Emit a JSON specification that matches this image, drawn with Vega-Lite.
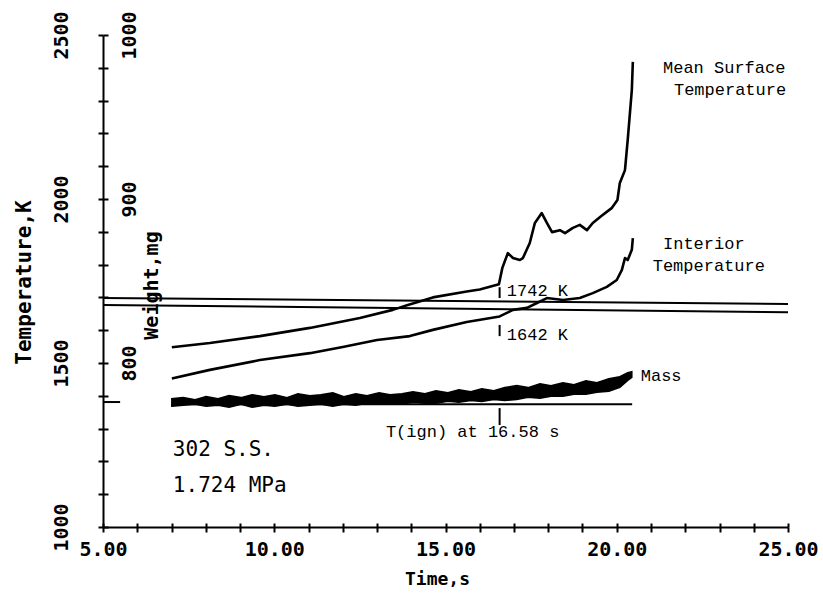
{
  "$schema": "https://vega.github.io/schema/vega-lite/v6.json",
  "width": 685,
  "height": 492,
  "autosize": {"type": "none"},
  "padding": {"left": 103, "top": 35, "right": 35, "bottom": 66},
  "background": "white",
  "config": {"view": {"stroke": null}},
  "datasets": {
    "curves": [
      {"series": "surface", "t": 7.01, "T": 1548},
      {"series": "surface", "t": 8.12, "T": 1561},
      {"series": "surface", "t": 9.58, "T": 1582},
      {"series": "surface", "t": 11.04, "T": 1607},
      {"series": "surface", "t": 12.5, "T": 1637},
      {"series": "surface", "t": 13.46, "T": 1662},
      {"series": "surface", "t": 13.9, "T": 1677},
      {"series": "surface", "t": 14.63, "T": 1700},
      {"series": "surface", "t": 15.62, "T": 1718},
      {"series": "surface", "t": 16.0, "T": 1724},
      {"series": "surface", "t": 16.56, "T": 1740},
      {"series": "surface", "t": 16.66, "T": 1790},
      {"series": "surface", "t": 16.82, "T": 1835},
      {"series": "surface", "t": 16.97, "T": 1820},
      {"series": "surface", "t": 17.17, "T": 1814},
      {"series": "surface", "t": 17.26, "T": 1820},
      {"series": "surface", "t": 17.46, "T": 1866},
      {"series": "surface", "t": 17.61, "T": 1927},
      {"series": "surface", "t": 17.81, "T": 1957},
      {"series": "surface", "t": 17.96, "T": 1927},
      {"series": "surface", "t": 18.11, "T": 1899},
      {"series": "surface", "t": 18.34, "T": 1905},
      {"series": "surface", "t": 18.49, "T": 1896},
      {"series": "surface", "t": 18.72, "T": 1912},
      {"series": "surface", "t": 18.92, "T": 1921},
      {"series": "surface", "t": 19.13, "T": 1905},
      {"series": "surface", "t": 19.3, "T": 1927},
      {"series": "surface", "t": 19.55, "T": 1948},
      {"series": "surface", "t": 19.86, "T": 1973},
      {"series": "surface", "t": 20.02, "T": 1997},
      {"series": "surface", "t": 20.09, "T": 2049},
      {"series": "surface", "t": 20.24, "T": 2088},
      {"series": "surface", "t": 20.32, "T": 2180},
      {"series": "surface", "t": 20.44, "T": 2332},
      {"series": "surface", "t": 20.47, "T": 2418},
      {"series": "interior", "t": 7.01, "T": 1453},
      {"series": "interior", "t": 8.12, "T": 1479},
      {"series": "interior", "t": 9.58, "T": 1509},
      {"series": "interior", "t": 11.04, "T": 1530},
      {"series": "interior", "t": 12.0, "T": 1549},
      {"series": "interior", "t": 13.0, "T": 1570},
      {"series": "interior", "t": 13.96, "T": 1582},
      {"series": "interior", "t": 14.63, "T": 1601},
      {"series": "interior", "t": 15.62, "T": 1625},
      {"series": "interior", "t": 16.58, "T": 1642},
      {"series": "interior", "t": 16.97, "T": 1662},
      {"series": "interior", "t": 17.38, "T": 1668},
      {"series": "interior", "t": 17.67, "T": 1683},
      {"series": "interior", "t": 17.96, "T": 1698},
      {"series": "interior", "t": 18.43, "T": 1692},
      {"series": "interior", "t": 18.92, "T": 1698},
      {"series": "interior", "t": 19.3, "T": 1713},
      {"series": "interior", "t": 19.71, "T": 1732},
      {"series": "interior", "t": 20.0, "T": 1753},
      {"series": "interior", "t": 20.15, "T": 1784},
      {"series": "interior", "t": 20.24, "T": 1820},
      {"series": "interior", "t": 20.32, "T": 1814},
      {"series": "interior", "t": 20.44, "T": 1845},
      {"series": "interior", "t": 20.47, "T": 1881}
    ],
    "refLines": [
      {"t": 5, "T": 1698, "t2": 25, "T2": 1680},
      {"t": 5, "T": 1677, "t2": 25, "T2": 1655}
    ],
    "markersT": [
      {"t": 16.58, "T": 1698, "T2": 1731},
      {"t": 16.58, "T": 1582, "T2": 1616}
    ],
    "labelsT": [
      {"t": 21.35, "T": 2399, "text": "Mean Surface"},
      {"t": 21.67, "T": 2332, "text": "Temperature"},
      {"t": 21.35, "T": 1863, "text": "Interior"},
      {"t": 21.05, "T": 1796, "text": "Temperature"},
      {"t": 16.79, "T": 1719, "text": "1742 K"},
      {"t": 16.79, "T": 1585, "text": "1642 K"},
      {"t": 13.26, "T": 1290, "text": "T(ign) at 16.58 s"}
    ],
    "labelsP": [
      {"t": 7.04, "T": 1235, "text": "302 S.S."},
      {"t": 7.04, "T": 1125, "text": "1.724 MPa"}
    ],
    "mass": [
      {"t": 7.01, "W": 773.6, "W2": 778.2},
      {"t": 7.34, "W": 774.2, "W2": 778.9},
      {"t": 7.69, "W": 774.8, "W2": 777.6},
      {"t": 8.01, "W": 773.6, "W2": 779.5},
      {"t": 8.36, "W": 774.2, "W2": 778.2},
      {"t": 8.68, "W": 773.0, "W2": 780.1},
      {"t": 9.03, "W": 774.8, "W2": 778.9},
      {"t": 9.35, "W": 773.0, "W2": 780.7},
      {"t": 9.7, "W": 774.2, "W2": 779.5},
      {"t": 10.02, "W": 773.6, "W2": 780.7},
      {"t": 10.37, "W": 774.8, "W2": 778.9},
      {"t": 10.69, "W": 773.6, "W2": 781.3},
      {"t": 11.04, "W": 774.2, "W2": 780.1},
      {"t": 11.36, "W": 774.8, "W2": 780.7},
      {"t": 11.71, "W": 773.6, "W2": 781.9},
      {"t": 12.03, "W": 774.8, "W2": 779.5},
      {"t": 12.38, "W": 774.2, "W2": 781.3},
      {"t": 12.71, "W": 775.4, "W2": 780.1},
      {"t": 13.06, "W": 774.8, "W2": 781.9},
      {"t": 13.38, "W": 775.4, "W2": 780.7},
      {"t": 13.73, "W": 774.8, "W2": 781.3},
      {"t": 14.05, "W": 776.0, "W2": 782.5},
      {"t": 14.4, "W": 775.4, "W2": 781.3},
      {"t": 14.72, "W": 775.4, "W2": 783.1},
      {"t": 15.07, "W": 776.6, "W2": 781.9},
      {"t": 15.39, "W": 776.0, "W2": 783.7},
      {"t": 15.74, "W": 777.2, "W2": 782.5},
      {"t": 16.06, "W": 776.6, "W2": 784.3},
      {"t": 16.41, "W": 777.8, "W2": 783.1},
      {"t": 16.73, "W": 777.2, "W2": 785.0},
      {"t": 17.08, "W": 777.8, "W2": 786.2},
      {"t": 17.41, "W": 779.1, "W2": 785.0},
      {"t": 17.76, "W": 778.5, "W2": 787.4},
      {"t": 18.08, "W": 779.7, "W2": 786.2},
      {"t": 18.43, "W": 779.7, "W2": 788.0},
      {"t": 18.75, "W": 780.9, "W2": 786.8},
      {"t": 19.1, "W": 780.9, "W2": 789.2},
      {"t": 19.42, "W": 782.1, "W2": 788.0},
      {"t": 19.77, "W": 782.7, "W2": 790.4},
      {"t": 20.09, "W": 785.2, "W2": 791.7},
      {"t": 20.32, "W": 789.4, "W2": 794.1},
      {"t": 20.44, "W": 791.3, "W2": 794.7}
    ],
    "massRules": [
      {"t": 7.0, "t2": 20.45, "W": 774.8},
      {"t": 5.0, "t2": 5.5, "W": 776.2}
    ],
    "markerW": [
      {"t": 16.58, "W": 762.2, "W2": 772.5}
    ],
    "labelsW": [
      {"t": 20.7, "W": 792.1, "text": "Mass"}
    ]
  },
  "layer": [
    {
      "encoding": {
        "x": {
          "field": "t", "type": "quantitative",
          "scale": {"domain": [5, 25], "nice": false, "zero": false},
          "axis": {
            "orient": "bottom",
            "values": [5,6,7,8,9,10,11,12,13,14,15,16,17,18,19,20,21,22,23,24,25],
            "labelExpr": "datum.value % 5 === 0 ? format(datum.value, '.2f') : ''",
            "labelFont": "DejaVu Sans Mono", "labelFontSize": 20, "labelFontWeight": "bold",
            "labelColor": "black", "labelPadding": 7, "labelBaseline": "top", "labelAlign": "center",
            "labelOverlap": false, "labelFlush": false, "labelBound": false,
            "tickSize": 5,
            "tickColor": "black", "tickWidth": 2,
            "domainColor": "black", "domainWidth": 2, "grid": false,
            "title": "Time,s", "titleFont": "DejaVu Sans Mono", "titleFontSize": 18,
            "titleFontWeight": "bold", "titleColor": "black",
            "titleX": 334, "titleY": 52, "titleBaseline": "middle", "titleAlign": "center"
          }
        },
        "y": {
          "field": "T", "type": "quantitative",
          "scale": {"domain": [1000, 2500], "nice": false, "zero": false},
          "axis": {
            "orient": "left",
            "values": [1000,1100,1200,1300,1400,1500,1600,1700,1800,1900,2000,2100,2200,2300,2400,2500],
            "format": "d",
            "labelExpr": "datum.value % 500 === 0 ? datum.label : ''",
            "labelAngle": 270, "labelAlign": "center", "labelBaseline": "alphabetic",
            "labelPadding": 31, "labelFont": "DejaVu Sans Mono", "labelFontSize": 20,
            "labelFontWeight": "bold", "labelColor": "black", "labelOverlap": false, "labelBound": false,
            "tickSize": 5,
            "tickColor": "black", "tickWidth": 2,
            "domainColor": "black", "domainWidth": 2, "grid": false,
            "title": "Temperature,K", "titleFont": "DejaVu Sans Mono", "titleFontSize": 21,
            "titleFontWeight": "bold", "titleColor": "black", "titleAngle": 270,
            "titleX": -73, "titleY": 247, "titleAlign": "center", "titleBaseline": "alphabetic"
          }
        }
      },
      "layer": [
        {
          "data": {"name": "curves"},
          "mark": {"type": "line", "color": "black", "strokeWidth": 2.6, "strokeJoin": "round"},
          "encoding": {"detail": {"field": "series"}}
        },
        {
          "data": {"name": "refLines"},
          "mark": {"type": "rule", "color": "black", "strokeWidth": 2},
          "encoding": {"x2": {"field": "t2"}, "y2": {"field": "T2"}}
        },
        {
          "data": {"name": "markersT"},
          "mark": {"type": "rule", "color": "black", "strokeWidth": 2},
          "encoding": {"y2": {"field": "T2"}}
        },
        {
          "data": {"name": "labelsT"},
          "mark": {"type": "text", "align": "left", "baseline": "middle", "font": "Liberation Mono", "fontSize": 17, "color": "black"},
          "encoding": {"text": {"field": "text"}}
        },
        {
          "data": {"name": "labelsP"},
          "mark": {"type": "text", "align": "left", "baseline": "middle", "font": "DejaVu Sans Mono", "fontSize": 21, "color": "black"},
          "encoding": {"text": {"field": "text"}}
        }
      ]
    },
    {
      "encoding": {
        "x": {
          "field": "t", "type": "quantitative",
          "scale": {"domain": [5, 25], "nice": false, "zero": false},
          "axis": {
            "orient": "top", "offset": -492,
            "values": [5,6,7,8,9,10,11,12,13,14,15,16,17,18,19,20,21,22,23,24,25],
            "labels": false, "domain": false, "grid": false, "title": null,
            "tickSize": 4,
            "tickColor": "black", "tickWidth": 2
          }
        },
        "y": {
          "field": "W", "type": "quantitative",
          "scale": {"domain": [700, 1000], "nice": false, "zero": false},
          "axis": {
            "orient": "right", "offset": -685,
            "values": [700,720,740,760,780,800,820,840,860,880,900,920,940,960,980,1000],
            "format": "d",
            "labelExpr": "datum.value % 100 === 0 && datum.value > 700 ? datum.label : ''",
            "labelAngle": 270, "labelAlign": "center", "labelBaseline": "alphabetic",
            "labelPadding": 27, "labelFont": "DejaVu Sans Mono", "labelFontSize": 20,
            "labelFontWeight": "bold", "labelColor": "black", "labelOverlap": false, "labelBound": false,
            "tickSize": 5,
            "tickColor": "black", "tickWidth": 2,
            "domain": false, "grid": false,
            "title": "Weight,mg", "titleFont": "DejaVu Sans Mono", "titleFontSize": 20,
            "titleFontWeight": "bold", "titleColor": "black", "titleAngle": 270,
            "titleX": 54, "titleY": 250, "titleAlign": "center", "titleBaseline": "alphabetic"
          }
        }
      },
      "layer": [
        {
          "data": {"name": "mass"},
          "mark": {"type": "area", "color": "black", "stroke": "black", "strokeWidth": 1.5},
          "encoding": {"y2": {"field": "W2"}}
        },
        {
          "data": {"name": "massRules"},
          "mark": {"type": "rule", "color": "black", "strokeWidth": 2},
          "encoding": {"x2": {"field": "t2"}}
        },
        {
          "data": {"name": "markerW"},
          "mark": {"type": "rule", "color": "black", "strokeWidth": 2},
          "encoding": {"y2": {"field": "W2"}}
        },
        {
          "data": {"name": "labelsW"},
          "mark": {"type": "text", "align": "left", "baseline": "middle", "font": "Liberation Mono", "fontSize": 17, "color": "black"},
          "encoding": {"text": {"field": "text"}}
        }
      ]
    }
  ],
  "resolve": {
    "scale": {"y": "independent"},
    "axis": {"y": "independent", "x": "independent"}
  }
}
